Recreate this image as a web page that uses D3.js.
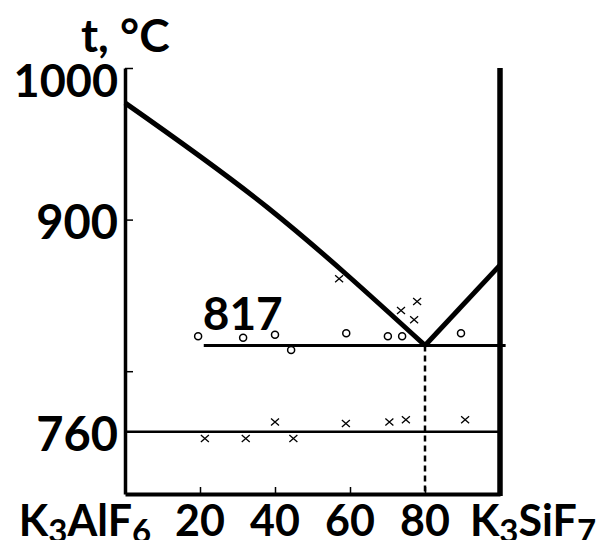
<!DOCTYPE html>
<html>

<head>
  <meta charset="utf-8">
  <style type="text/css">
    body {
      margin: 0;
      background: #fff;
    }
    text {
      font-family: Lato, "Open Sans", sans-serif;
      font-weight: 700;
      fill: #000;
    }
  </style>
  <title>K3AlF6 - K3SiF7</title>
</head>

<body>
  <script src="https://cdn.jsdelivr.net/npm/d3@7"></script>
  <script>
    // liquidus (mol % K3SiF7, t in C)
    var liquidusLeft = [[0, 977], [38, 908], [80, 817]];
    var liquidusRight = [[80, 817], [100, 870]];

    var eutectic = {x: 80, t: 817};
    var eutecticLineFrom = 21, eutecticLineTo = 101.5;
    var transition = 760;

    // thermal analysis points
    var circles = [
      [19.5, 823], [31.5, 822], [40, 824], [44.3, 814],
      [59, 825], [70.1, 823], [73.9, 823], [89.6, 825]
    ];
    var crossesLiquidus = [[57.1, 861], [73.6, 840], [77.9, 846], [77.1, 834]];
    var crossesLow = [
      [21.3, 755.6], [32.2, 755.6], [40, 766.5], [44.9, 755.6],
      [58.9, 765.5], [70.5, 766.5], [74.9, 768], [90.7, 768]
    ];

    var xTicks = [20, 40, 60, 80];
    var yTicks = [1000, 900, 800];
    var yLabels = [1000, 900, 760];

    var width = 606, height = 540;

    var x = d3.scaleLinear().domain([0, 100]).range([125, 500]);
    var y = d3.scaleLinear().domain([719, 1000]).range([494, 68]);

    var svg = d3.select('body').append('svg')
      .attr('width', width)
      .attr('height', height);

    // left axis, ticks pointing inwards
    svg.append('g')
      .attr('transform', 'translate(' + x(0) + ',0)')
      .call(d3.axisLeft(y).tickValues(yTicks).tickSizeInner(-8).tickSizeOuter(0).tickFormat(''))
      .call(g => g.select('.domain').attr('stroke-width', 3.5))
      .call(g => g.selectAll('.tick line').attr('stroke-width', 1.5));

    // bottom axis
    svg.append('g')
      .attr('transform', 'translate(0,' + y(719) + ')')
      .call(d3.axisBottom(x).tickValues(xTicks).tickSizeInner(-7).tickSizeOuter(0).tickFormat(''))
      .call(g => g.select('.domain').attr('stroke-width', 4))
      .call(g => g.selectAll('.tick line').attr('stroke-width', 1.5));

    // right border (pure K3SiF7)
    svg.append('line')
      .attr('x1', x(100)).attr('x2', x(100))
      .attr('y1', y(1000)).attr('y2', y(719) + 2)
      .attr('stroke', '#000').attr('stroke-width', 5.5);

    var line = d3.line().x(d => x(d[0])).y(d => y(d[1])).curve(d3.curveMonotoneX);

    svg.append('path').datum(liquidusLeft)
      .attr('d', line)
      .attr('fill', 'none').attr('stroke', '#000').attr('stroke-width', 5);

    svg.append('path').datum(liquidusRight)
      .attr('d', line)
      .attr('fill', 'none').attr('stroke', '#000').attr('stroke-width', 5);

    // eutectic horizontal
    svg.append('line')
      .attr('x1', x(eutecticLineFrom)).attr('x2', x(eutecticLineTo))
      .attr('y1', y(eutectic.t)).attr('y2', y(eutectic.t))
      .attr('stroke', '#000').attr('stroke-width', 3);

    // 760 line
    svg.append('line')
      .attr('x1', x(0)).attr('x2', x(100))
      .attr('y1', y(transition)).attr('y2', y(transition))
      .attr('stroke', '#000').attr('stroke-width', 2.5);

    // dashed eutectic composition
    svg.append('line')
      .attr('x1', x(eutectic.x)).attr('x2', x(eutectic.x))
      .attr('y1', y(eutectic.t)).attr('y2', y(719))
      .attr('stroke', '#000').attr('stroke-width', 2.5)
      .attr('stroke-dasharray', '6,4');

    svg.selectAll('.circ').data(circles).enter().append('circle')
      .attr('cx', d => x(d[0])).attr('cy', d => y(d[1]))
      .attr('r', 3.5)
      .attr('fill', '#fff').attr('stroke', '#000').attr('stroke-width', 1.5);

    svg.selectAll('.cross').data(crossesLiquidus.concat(crossesLow)).enter().append('path')
      .attr('transform', d => 'translate(' + x(d[0]) + ',' + y(d[1]) + ')')
      .attr('d', 'M-4,-3.5L4,3.5M-4,3.5L4,-3.5')
      .attr('fill', 'none').attr('stroke', '#000').attr('stroke-width', 1.3);

    // y labels
    svg.selectAll('.ylab').data(yLabels).enter().append('text')
      .attr('x', x(0) - 7)
      .attr('y', d => Math.max(y(d) + 19, y(1000) + 29))
      .attr('text-anchor', 'end')
      .style('font-size', d => d == 1000 ? '45px' : '47px')
      .text(d => d);

    svg.append('text')
      .attr('x', x(eutecticLineFrom) - 1)
      .attr('y', y(eutectic.t) - 15)
      .style('font-size', '46px')
      .text(eutectic.t);

    svg.append('text')
      .attr('x', 81).attr('y', 52)
      .style('font-size', '46px')
      .text('t, °C');

    // bottom labels
    svg.selectAll('.xlab').data(xTicks).enter().append('text')
      .attr('x', d => x(d))
      .attr('y', 536)
      .attr('text-anchor', 'middle')
      .style('font-size', '43px')
      .text(d => d);

    function formula(xPos, parts) {
      var t = svg.append('text')
        .attr('x', xPos).attr('y', 536)
        .attr('text-anchor', 'middle')
        .style('font-size', '43px');
      parts.forEach(function (p, i) {
        var sub = i % 2 == 1;
        t.append('tspan')
          .attr('dy', sub ? 7 : (i > 0 ? -7 : 0))
          .style('font-size', sub ? '33px' : '43px')
          .text(p);
      });
    }
    formula(x(0) - 40, ['K', '3', 'AlF', '6']);
    formula(x(100) + 33, ['K', '3', 'SiF', '7']);
  </script>
</body>

</html>
